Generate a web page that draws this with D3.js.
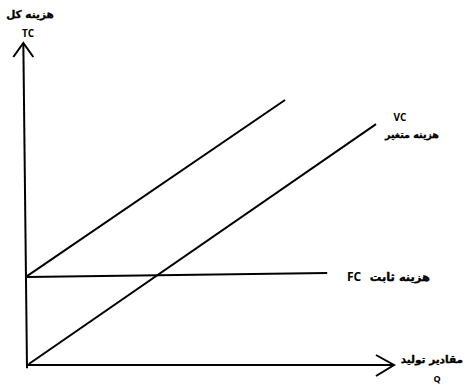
<!DOCTYPE html>
<html>
<head>
<meta charset="utf-8">
<script src="https://cdn.jsdelivr.net/npm/d3@7"></script>
<style>
  body { margin: 0; background: #fff; }
  .fa { font-family: "DejaVu Sans", sans-serif; font-weight: bold; stroke: black; stroke-width: 0.35; }
  .en { font-family: "Open Sans", "Liberation Sans", sans-serif; font-weight: bold; }
</style>
</head>
<body>
<div class="chart"></div>
<script>
// curves in (Q, cost) units
const fixedCost = [{q: 0, c: 2.73}, {q: 8.18, c: 2.86}]
const totalCost = [{q: 0, c: 2.76}, {q: 7.03, c: 8.23}]
const variableCost = [{q: 0.05, c: 0.03}, {q: 9.51, c: 7.48}]

const labels = {
  yTitle: "هزینه کل", yName: "TC",
  xTitle: "مقادیر تولید", xName: "Q",
  vc: "VC", vcTitle: "هزینه متغیر",
  fc: "هزینه ثابت", fcName: "FC"
}

const width = 465, height = 386

const svg = d3.select(".chart").append("svg")
  .attr("width", width)
  .attr("height", height)

const xScale = d3.scaleLinear().domain([0, 10]).range([27, 394])
const yScale = d3.scaleLinear().domain([0, 10]).range([365, 43])

const line = d3.line()
  .x(d => xScale(d.q))
  .y(d => yScale(d.c))

// axes
svg.append("path")
  .attr("d", `M${xScale(0)},${yScale(-0.1)} L${xScale(-0.1)},${yScale(10)}`)
  .attr("stroke", "black").attr("stroke-width", 2).attr("fill", "none")

svg.append("path")
  .attr("d", `M${xScale(0)},${yScale(0)} L${xScale(10)},${yScale(0)}`)
  .attr("stroke", "black").attr("stroke-width", 2).attr("fill", "none")

// arrow heads
svg.append("path")
  .attr("d", `M${xScale(-0.1) - 10},${yScale(10) + 14} L${xScale(-0.1)},${yScale(10)} L${xScale(-0.1) + 10},${yScale(10) + 14}`)
  .attr("stroke", "black").attr("stroke-width", 2).attr("fill", "none")

svg.append("path")
  .attr("d", `M${xScale(10) - 18},${yScale(0) - 10} L${xScale(10)},${yScale(0)} L${xScale(10) - 18},${yScale(0) + 11}`)
  .attr("stroke", "black").attr("stroke-width", 2).attr("fill", "none")

// cost lines
;[fixedCost, totalCost, variableCost].forEach(d => {
  svg.append("path")
    .datum(d)
    .attr("fill", "none")
    .attr("stroke", "black")
    .attr("stroke-width", 2)
    .attr("d", line)
})

// labels
svg.append("text").attr("class", "fa")
  .attr("x", 30).attr("y", 18).attr("text-anchor", "middle")
  .attr("font-size", 10.5).attr("direction", "rtl")
  .text(labels.yTitle)

svg.append("text").attr("class", "en")
  .attr("x", 28).attr("y", 37).attr("text-anchor", "middle")
  .attr("font-size", 10)
  .text(labels.yName)

svg.append("text").attr("class", "en")
  .attr("x", 400).attr("y", 121).attr("text-anchor", "middle")
  .attr("font-size", 10)
  .text(labels.vc)

svg.append("text").attr("class", "fa")
  .attr("x", 412).attr("y", 138).attr("text-anchor", "middle")
  .attr("font-size", 9.5).attr("direction", "rtl")
  .text(labels.vcTitle)

svg.append("text").attr("class", "en")
  .attr("x", 347).attr("y", 281).attr("text-anchor", "start")
  .attr("font-size", 12)
  .text(labels.fcName)

svg.append("text").attr("class", "fa")
  .attr("x", 430).attr("y", 281).attr("text-anchor", "start")
  .attr("font-size", 11.5).attr("direction", "rtl")
  .text(labels.fc)

svg.append("text").attr("class", "fa")
  .attr("x", 463).attr("y", 363).attr("text-anchor", "start")
  .attr("font-size", 10.5).attr("direction", "rtl")
  .text(labels.xTitle)

svg.append("text").attr("class", "en")
  .attr("x", 437).attr("y", 382).attr("text-anchor", "middle")
  .attr("font-size", 9)
  .text(labels.xName)
</script>
</body>
</html>
